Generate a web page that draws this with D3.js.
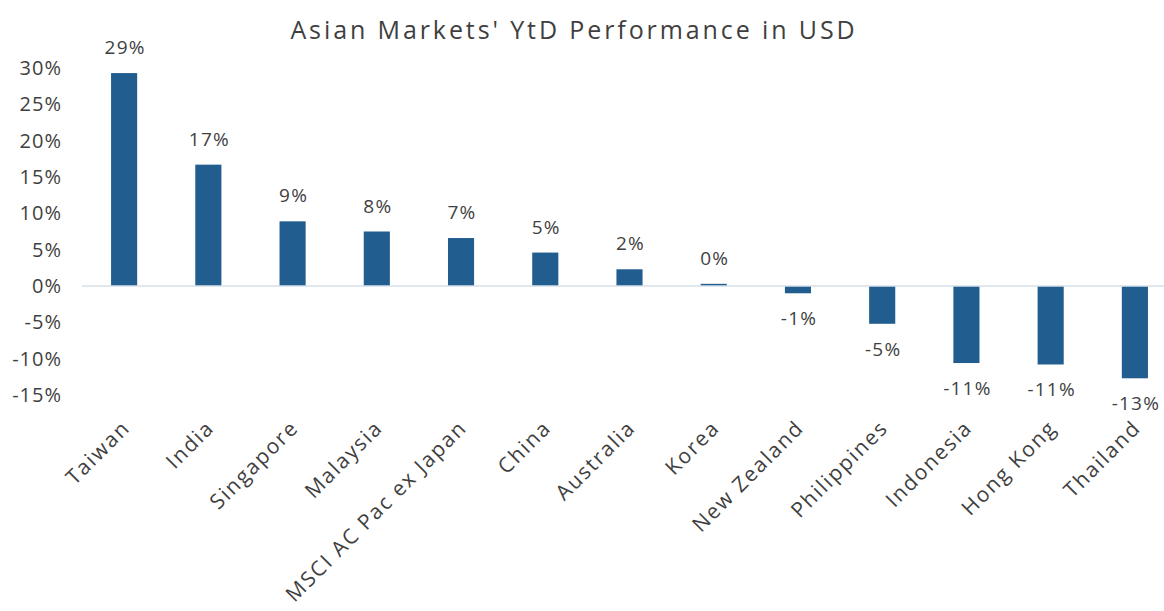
<!DOCTYPE html>
<html>
<head>
<meta charset="utf-8">
<script src="https://cdn.jsdelivr.net/npm/d3@7"></script>
<style>
  html, body { margin: 0; padding: 0; background: #fff; }
  svg { display: block; }
  text { font-family: "Open Sans", "Noto Sans", sans-serif; fill: #3f3f3f; }
</style>
</head>
<body>
<svg id="chart" width="1164" height="611"></svg>
<script>
const categories = ["Taiwan", "India", "Singapore", "Malaysia", "MSCI AC Pac ex Japan", "China",
  "Australia", "Korea", "New Zealand", "Philippines", "Indonesia", "Hong Kong", "Thailand"];
const values = [29.3, 16.7, 8.9, 7.5, 6.6, 4.6, 2.3, 0.3, -1.0, -5.2, -10.6, -10.8, -12.7];
const yTicks = [30, 25, 20, 15, 10, 5, 0, -5, -10, -15];
const title = "Asian Markets' YtD Performance in USD";

const svg = d3.select("#chart");
const pct = d => Math.round(d) + "%";

const x = d3.scaleBand().domain(categories).range([82, 1177]).paddingInner(0.69).paddingOuter(0.345);
const y = d3.scaleLinear().domain([-15, 30]).range([395, 68]);

// title
svg.append("text")
  .attr("x", 574).attr("y", 39)
  .attr("text-anchor", "middle")
  .style("font-size", "25px")
  .style("letter-spacing", "2.9px")
  .text(title);

// y axis (labels only)
const yAxis = d3.axisLeft(y).tickValues(yTicks).tickFormat(pct).tickSize(0).tickPadding(0);
const gy = svg.append("g").attr("transform", "translate(62,0)").call(yAxis);
gy.select(".domain").remove();
gy.selectAll("text")
  .style("font-size", "20px")
  .style("letter-spacing", "1px")
  .attr("fill", "#3f3f3f")
  .style("font-family", "\"Open Sans\", sans-serif");

// bars
svg.append("g").selectAll("rect").data(values).join("rect")
  .attr("x", (d, i) => x(categories[i]))
  .attr("width", x.bandwidth())
  .attr("y", d => y(Math.max(0, d)))
  .attr("height", d => Math.abs(y(d) - y(0)))
  .attr("fill", "#215d8f");

// zero line
svg.append("line")
  .attr("x1", x.range()[0]).attr("x2", x.range()[1])
  .attr("y1", y(0)).attr("y2", y(0))
  .attr("stroke", "#d6dfea").attr("stroke-width", 1.5);

// data labels
svg.append("g").selectAll("text").data(values).join("text")
  .attr("x", (d, i) => x(categories[i]) + x.bandwidth() / 2 + 1)
  .attr("y", d => d >= 0 ? y(d) - 19 : y(d) + 32)
  .attr("text-anchor", "middle")
  .style("font-size", "19px")
  .style("letter-spacing", "1.2px")
  .text(pct);

// x axis category labels
const xAxis = d3.axisBottom(x).tickSize(0).tickPadding(0);
const gx = svg.append("g").attr("transform", "translate(2,424)").call(xAxis);
gx.select(".domain").remove();
gx.selectAll("text")
  .attr("y", 0).attr("dy", "0.35em").attr("x", 0)
  .attr("text-anchor", "end")
  .attr("transform", "rotate(-45)")
  .attr("fill", "#3f3f3f")
  .style("font-size", "21px")
  .style("letter-spacing", "1.8px")
  .style("font-family", "\"Open Sans\", sans-serif");
</script>
</body>
</html>
